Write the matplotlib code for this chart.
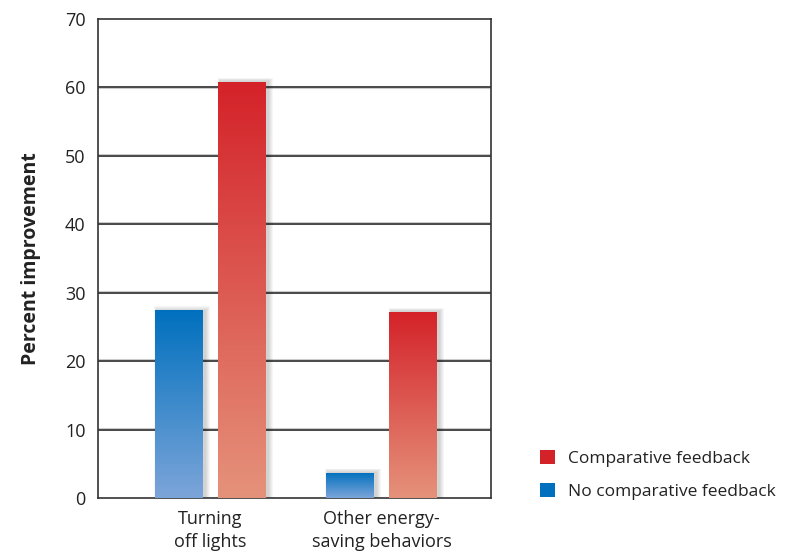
import numpy as np
import matplotlib.pyplot as plt
from matplotlib.colors import LinearSegmentedColormap
from matplotlib.patches import Patch

plt.rcParams['font.family'] = ['Open Sans', 'DejaVu Sans']

categories = ['Turning\noff lights', 'Other energy-\nsaving behaviors']
no_comparative = [27.4, 3.7]
comparative = [60.8, 27.2]
series_names = ['Comparative feedback', 'No comparative feedback']

red_top, red_bottom = '#d42229', '#e5927b'
blue_top, blue_bottom = '#0070be', '#7ca5d9'

fig = plt.figure(figsize=(7.88, 5.53), dpi=100)
ax = fig.add_axes([0.1244, 0.0995, 0.4987, 0.8662])

x = np.arange(len(categories))
width = 0.28
offset = 0.186


def gradient_bars(xpos, values, top, bottom):
    bars = ax.bar(xpos, values, width, color='none', edgecolor='none', zorder=3)
    cmap = LinearSegmentedColormap.from_list('g', [bottom, top])
    grad = np.linspace(0, 1, 256).reshape(-1, 1)
    for b in bars:
        x0, y0 = b.get_x(), b.get_y()
        w, h = b.get_width(), b.get_height()
        # soft drop shadow, mostly up and to the right
        for i in range(1, 6):
            pad = i * 0.006
            ax.add_patch(plt.Rectangle((x0 + 0.012 - pad * 0.5, y0),
                                       w + pad * 1.5, h + pad * 20,
                                       facecolor='black', edgecolor='none',
                                       alpha=0.035, zorder=2))
        im = ax.imshow(grad, cmap=cmap, aspect='auto', origin='lower',
                       extent=[x0, x0 + w, y0, y0 + h], zorder=3)
        im.set_clip_path(b)
    return bars


gradient_bars(x - offset, no_comparative, blue_top, blue_bottom)
gradient_bars(x + offset, comparative, red_top, red_bottom)

ax.set_xlim(-0.658, 1.640)
ax.set_ylim(0, 70)
ax.set_yticks(range(0, 71, 10))
ax.set_xticks(x)
ax.set_xticklabels(categories, linespacing=1.3)
ax.tick_params(axis='both', length=0, labelsize=13, colors='#222222')
ax.tick_params(axis='y', pad=9)
ax.tick_params(axis='x', pad=9, labelsize=13)

for yv in range(10, 70, 10):
    ax.axhline(yv + 0.12, color='#999999', linewidth=2.2, alpha=0.5, zorder=1)
    ax.axhline(yv, color='#333333', linewidth=1.2, zorder=1)

for s in ax.spines.values():
    s.set_color('#333333')
    s.set_linewidth(1.2)

ax.set_ylabel('Percent improvement', fontsize=14, fontweight='bold',
              color='#222222', labelpad=17)

handles = [Patch(facecolor=red_top, edgecolor='none'),
           Patch(facecolor=blue_top, edgecolor='none')]
fig.legend(handles, series_names, loc='lower left',
           bbox_to_anchor=(0.665, 0.068), frameon=False, fontsize=12.5,
           handlelength=0.9, handleheight=0.9, handletextpad=0.75,
           labelspacing=0.9, labelcolor='#222222')

fig.savefig('out.png', dpi=100)
